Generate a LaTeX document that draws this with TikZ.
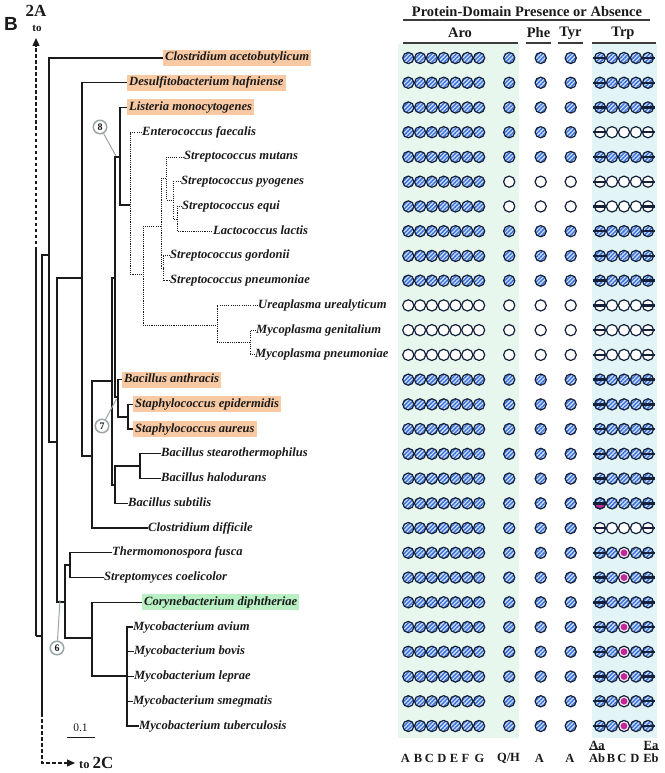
\documentclass[tikz,border=0pt]{standalone}
\usepackage{fontspec}
\setmainfont{Liberation Serif}
\setsansfont{Liberation Sans}
\usetikzlibrary{patterns.meta,arrows.meta}
\definecolor{ink}{HTML}{1A1A1A}
\definecolor{navy}{HTML}{15203A}
\definecolor{hatchbg}{HTML}{D2E2FA}
\definecolor{hatchfg}{HTML}{3A70D8}
\definecolor{mag}{HTML}{C0289A}
\definecolor{peach}{HTML}{F8C9A2}
\definecolor{mint}{HTML}{B8F0C4}
\definecolor{stripA}{HTML}{E7F7EE}
\definecolor{stripT}{HTML}{E2F4F5}
\definecolor{gcirc}{HTML}{9AA5A5}
\tikzset{
 tl/.style={draw=ink,line width=1.25pt},
 dl/.style={draw=ink,line width=0.9pt,dash pattern=on 1.1pt off 1.1pt},
 lab/.style={anchor=west,inner sep=0pt,text height=9pt,text depth=3pt,font=\fontsize{12.6}{14}\selectfont\bfseries\itshape,text=ink},
 hlo/.style={fill=peach,inner xsep=2pt,inner ysep=2pt},
 hlg/.style={fill=mint,inner xsep=2pt,inner ysep=2pt},
 ncirc/.style={circle,draw=gcirc,line width=1.5pt,fill=white,inner sep=0pt,minimum size=13.5pt,font=\fontsize{10}{10}\selectfont\bfseries,text=ink},
 gline/.style={draw=gcirc,line width=1pt},
 hdr/.style={font=\fontsize{14.5}{16}\selectfont\bfseries,text=ink,inner sep=0pt},
 hline/.style={draw=ink!85,line width=1.1pt},
 bot/.style={font=\fontsize{12.5}{13}\selectfont\bfseries,text=ink,inner sep=0pt},
 circ/.style={draw=navy,line width=1.2pt},
 lnk/.style={tl,dash pattern=on 3.5pt off 2.5pt},
}
\newcommand\dP[2]{%
 \fill[hatchbg] (#1,#2) circle[radius=5.6];
 \fill[pattern={Lines[angle=45,distance=2.9pt,line width=1.45pt]},pattern color=hatchfg] (#1,#2) circle[radius=5.6];
 \draw[circ] (#1,#2) circle[radius=5.6];}
\newcommand\dA[2]{\draw[circ,fill=white] (#1,#2) circle[radius=5.6];}
\newcommand\dM[2]{\draw[circ,fill=white!92!mag] (#1,#2) circle[radius=5.6];
 \fill[mag] (#1,#2) circle[radius=3.4];}
\newcommand\trpbar[2]{\draw[navy,line width=2.4pt] (#1-6.8,#2) -- (#1+6.8,#2);}
\newcommand\aroP[1]{\foreach \xx in {408.3,420.1,431.9,443.7,455.5,467.3,479.1} {\dP{\xx}{#1}}}
\newcommand\aroA[1]{\foreach \xx in {408.3,420.1,431.9,443.7,455.5,467.3,479.1} {\dA{\xx}{#1}}}
\newcommand\qptP[1]{\dP{509.2}{#1}\dP{540.7}{#1}\dP{570.7}{#1}}
\newcommand\qptA[1]{\dA{509.2}{#1}\dA{540.7}{#1}\dA{570.7}{#1}}
\newcommand\trpP[1]{\dP{600}{#1}\trpbar{600}{#1}\dP{612}{#1}\dP{624}{#1}\dP{636}{#1}\dP{648}{#1}\trpbar{648}{#1}}
\newcommand\trpA[1]{\dA{600}{#1}\trpbar{600}{#1}\dA{612}{#1}\dA{624}{#1}\dA{636}{#1}\dA{648}{#1}\trpbar{648}{#1}}
\newcommand\trpM[1]{\dP{600}{#1}\trpbar{600}{#1}\dP{612}{#1}\dM{624}{#1}\dP{636}{#1}\dP{648}{#1}\trpbar{648}{#1}}
\newcommand\trpB[1]{\dP{600}{#1}
 \begin{scope}\clip (594,#1) rectangle (606,#1+6);\fill[mag] (600,#1) circle[radius=5.6];\end{scope}
 \draw[circ] (600,#1) circle[radius=5.6];
 \trpbar{600}{#1}\dP{612}{#1}\dP{624}{#1}\dP{636}{#1}\dP{648}{#1}\trpbar{648}{#1}}
\newcommand\rowP[1]{\aroP{#1}\qptP{#1}\trpP{#1}}
\newcommand\rowE[1]{\aroP{#1}\qptP{#1}\trpA{#1}}
\newcommand\rowS[1]{\aroP{#1}\qptA{#1}\trpA{#1}}
\newcommand\rowN[1]{\aroA{#1}\qptA{#1}\trpA{#1}}
\newcommand\rowM[1]{\aroP{#1}\qptP{#1}\trpM{#1}}
\newcommand\rowB[1]{\aroP{#1}\qptP{#1}\trpB{#1}}
\begin{document}
\begin{tikzpicture}[x=1pt,y=-1pt]
\useasboundingbox (0,0) rectangle (664,773);
% shaded strips
\fill[stripA] (398,44) rectangle (519,738);
\fill[stripT] (592,44) rectangle (657,738);
% headers
\node[hdr] (hmain) at (527,12) {Protein-Domain Presence or Absence};
\coordinate (hmL) at (403,20); \coordinate (hmR) at (650,20);
\draw[hline] (hmL) -- (hmR);
\node[hdr] (haro) at (460,33) {Aro};
\node[hdr] (hphe) at (538.5,33) {Phe};
\node[hdr] (htyr) at (570.5,33) {Tyr};
\node[hdr] (htrp) at (623,33) {Trp};
\coordinate (aL) at (403,43); \coordinate (aR) at (518,43);
\coordinate (pL) at (526,43); \coordinate (pR) at (551,43);
\coordinate (yL) at (558,43); \coordinate (yR) at (583,43);
\coordinate (tL) at (592,43); \coordinate (tR) at (656,43);
\draw[hline] (aL) -- (aR); \draw[hline] (pL) -- (pR);
\draw[hline] (yL) -- (yR); \draw[hline] (tL) -- (tR);
% domain rows
\rowP{58.0}\rowP{82.74}\rowP{107.48}\rowE{132.22}\rowP{156.96}
\rowS{181.70}\rowS{206.45}\rowP{231.19}\rowP{255.93}\rowP{280.67}
\rowN{305.41}\rowN{330.15}\rowN{354.89}
\rowP{379.63}\rowP{404.37}\rowP{429.11}\rowP{453.85}\rowP{478.59}
\rowB{503.33}\rowE{528.07}\rowM{552.82}\rowM{577.56}\rowP{602.30}
\rowM{627.04}\rowM{651.78}\rowM{676.52}\rowM{701.26}\rowM{726.0}
% bottom labels
\node[bot] (bA) at (405.5,758) {A};
\node[bot] (bB) at (418,758) {B};
\node[bot] (bC) at (429.5,758) {C};
\node[bot] (bD) at (442,758) {D};
\node[bot] (bE) at (454,758) {E};
\node[bot] (bF) at (465.5,758) {F};
\node[bot] (bG) at (479.5,758) {G};
\node[bot] (bQ) at (508.5,758) {Q/H};
\node[bot] (bPA) at (539.5,758) {A};
\node[bot] (bTA) at (570,758) {A};
\node[bot] (bAa) at (597,745) {Aa};
\node[bot] (bAb) at (597,758) {Ab};
\node[bot] (bTB) at (611,758) {B};
\node[bot] (bTC) at (622,758) {C};
\node[bot] (bTD) at (635,758) {D};
\node[bot] (bEa) at (651,745) {Ea};
\node[bot] (bEb) at (651,758) {Eb};
\draw[line width=0.9pt,ink] (bAa.south west) -- (bAa.south east);
\draw[line width=0.9pt,ink] (bEa.south west) -- (bEa.south east);
% panel labels
\node[font=\fontsize{19}{19}\selectfont\sffamily\bfseries,text=ink] (pB) at (11,24) {B};
\node[font=\fontsize{17}{17}\selectfont\bfseries,text=ink] (t2A) at (36,11) {2A};
\node[font=\fontsize{11}{11}\selectfont\bfseries,text=ink] (tto) at (37,28) {to};
\node[anchor=west,inner sep=0pt,text=ink] (to2c) at (79,763) {\fontsize{12.5}{12}\selectfont\bfseries to \fontsize{17}{17}\selectfont 2C};
% species labels
\node[lab,hlo] (l1) at (163,58.0) {Clostridium acetobutylicum};
\node[lab,hlo] (l2) at (127,82.74) {Desulfitobacterium hafniense};
\node[lab,hlo] (l3) at (127,107.48) {Listeria monocytogenes};
\node[lab] (l4) at (142,132.22) {Enterococcus faecalis};
\node[lab] (l5) at (184,156.96) {Streptococcus mutans};
\node[lab] (l6) at (181,181.70) {Streptococcus pyogenes};
\node[lab] (l7) at (182,206.45) {Streptococcus equi};
\node[lab] (l8) at (213,231.19) {Lactococcus lactis};
\node[lab] (l9) at (170,255.93) {Streptococcus gordonii};
\node[lab] (l10) at (170,280.67) {Streptococcus pneumoniae};
\node[lab] (l11) at (258,305.41) {Ureaplasma urealyticum};
\node[lab] (l12) at (256,330.15) {Mycoplasma genitalium};
\node[lab] (l13) at (255,354.89) {Mycoplasma pneumoniae};
\node[lab,hlo] (l14) at (122,379.63) {Bacillus anthracis};
\node[lab,hlo] (l15) at (133,404.37) {Staphylococcus epidermidis};
\node[lab,hlo] (l16) at (133,429.11) {Staphylococcus aureus};
\node[lab] (l17) at (161,453.85) {Bacillus stearothermophilus};
\node[lab] (l18) at (161,478.59) {Bacillus halodurans};
\node[lab] (l19) at (128,503.33) {Bacillus subtilis};
\node[lab] (l20) at (148,528.07) {Clostridium difficile};
\node[lab] (l21) at (112,552.82) {Thermomonospora fusca};
\node[lab] (l22) at (104,577.56) {Streptomyces coelicolor};
\node[lab,hlg] (l23) at (142,602.30) {Corynebacterium diphtheriae};
\node[lab] (l24) at (133,627.04) {Mycobacterium avium};
\node[lab] (l25) at (134,651.78) {Mycobacterium bovis};
\node[lab] (l26) at (134,676.52) {Mycobacterium leprae};
\node[lab] (l27) at (133,701.26) {Mycobacterium smegmatis};
\node[lab] (l28) at (139,726.0) {Mycobacterium tuberculosis};
% inner nodes
\coordinate (K140) at (140,466);
\coordinate (K115b) at (115,485);
\coordinate (K128) at (128,417);
\coordinate (K118) at (118,397);
\coordinate (K120) at (120,157);
\coordinate (K115a) at (115,278);
\coordinate (K112) at (112,381);
\coordinate (K92a) at (92,456);
\coordinate (K82) at (82,278);
\coordinate (K70) at (70,565);
\coordinate (K127) at (127,676);
\coordinate (K92b) at (92,638);
\coordinate (K65) at (65,602);
\coordinate (K57) at (57,442);
\coordinate (K49) at (49,255);
\coordinate (K42) at (42,636);
\coordinate (K36) at (36,636);
\coordinate (D177) at (177,219);
\coordinate (D173) at (173,200);
\coordinate (D166) at (166,178);
\coordinate (D163) at (163,268);
\coordinate (D161) at (161,226);
\coordinate (D250) at (250,342);
\coordinate (D217) at (217,325);
\coordinate (D143) at (143,274);
\coordinate (D130) at (130,205);
% solid branches
\draw[tl] (l17.west) -| (K140) |- (l18.west);
\draw[tl] (K140) -| (K115b) |- (l19.west);
\draw[tl] (l15.west) -| (K128) |- (l16.west);
\draw[tl] (l14.west) -| (K118) |- (K128);
\draw[tl] (l3.west) -| (K120) |- (D130);
\draw[tl] (K120) -| (K115a) |- (K118);
\draw[tl] (K115a) -| (K112) |- (K115b);
\draw[tl] (K112) -| (K92a) |- (l20.west);
\draw[tl] (l2.west) -| (K82) |- (K92a);
\draw[tl] (l21.west) -| (K70) |- (l22.west);
\draw[tl] (l24.west) -| (K127) |- (l28.west);
\draw[tl] (K127 |- l25.west) -- (l25.west);
\draw[tl] (K127 |- l26.west) -- (l26.west);
\draw[tl] (K127 |- l27.west) -- (l27.west);
\draw[tl] (l23.west) -| (K92b) |- (K127);
\draw[tl] (K70) -| (K65) |- (K92b);
\draw[tl] (K82) -| (K57) |- (K65);
\draw[tl] (l1.west) -| (K49) |- (K57);
\draw[tl] (K49) -| (K42) -- (K36);
% dotted branches
\draw[dl] (l7.west) -| (D177) |- (l8.west);
\draw[dl] (l6.west) -| (D173) |- (D177);
\draw[dl] (l5.west) -| (D166) |- (D173);
\draw[dl] (l9.west) -| (D163) |- (l10.west);
\draw[dl] (D166) -| (D161) |- (D163);
\draw[dl] (l12.west) -| (D250) |- (l13.west);
\draw[dl] (l11.west) -| (D217) |- (D250);
\draw[dl] (D161) -| (D143) |- (D217);
\draw[dl] (l4.west) -| (D130) |- (D143);
% links to other panels
\coordinate (A2top) at (36,38);
\coordinate (A2d) at (36,250);
\draw[lnk,-{Triangle[length=8pt,width=7pt]}] (A2d) -- (A2top);
\draw[tl] (A2d) -- (K36);
\coordinate (C2d) at (42,713);
\coordinate (C2c) at (42,763);
\coordinate (C2e) at (75,763);
\draw[tl] (K42) -- (C2d);
\draw[lnk,-{Triangle[length=8pt,width=7pt]}] (C2d) -- (C2c) -- (C2e);
% scale bar
\node[font=\fontsize{11.5}{12}\selectfont,text=ink,inner sep=0pt] (sb) at (80.5,728) {0.1};
\coordinate (sbL) at (67,737); \coordinate (sbR) at (95,737);
\draw[line width=1pt,ink] (sbL) -- (sbR);
% node markers
\node[ncirc] (n8) at (100,127) {8};
\coordinate (p8) at (116,156);
\draw[gline] (n8) -- (p8);
\node[ncirc] (n7) at (102,426) {7};
\coordinate (p7) at (116.5,399);
\draw[gline] (n7) -- (p7);
\node[ncirc] (n6) at (57,648) {6};
\coordinate (p6) at (60,600);
\draw[gline] (n6) -- (p6);
\end{tikzpicture}
\end{document}
